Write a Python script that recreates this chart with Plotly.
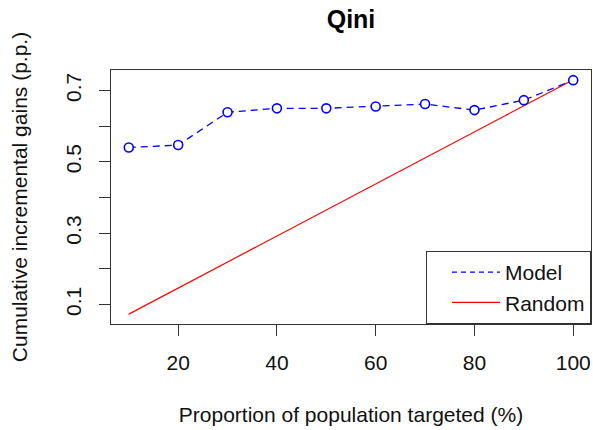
import plotly.graph_objects as go

proportion = [10, 20, 30, 40, 50, 60, 70, 80, 90, 100]
model_gain = [0.540, 0.547, 0.639, 0.650, 0.650, 0.655, 0.662, 0.645, 0.673, 0.729]
random_gain = [0.073, 0.146, 0.219, 0.292, 0.365, 0.438, 0.511, 0.584, 0.657, 0.730]
x_ticks = [20, 40, 60, 80, 100]
y_ticks = [0.1, 0.2, 0.3, 0.4, 0.5, 0.6, 0.7]
y_tick_text = ["0.1", "", "0.3", "", "0.5", "", "0.7"]

BLUE = "#0000ff"
RED = "#ff0000"
FONT = "Liberation Sans, Arial, sans-serif"
TXT = "#111111"

fig = go.Figure()
fig.add_trace(go.Scatter(
    x=proportion, y=random_gain, mode="lines",
    line=dict(color=RED, width=1.2), showlegend=False, hoverinfo="skip"))
fig.add_trace(go.Scatter(
    x=proportion, y=model_gain, mode="lines+markers",
    line=dict(color=BLUE, width=1.3, dash="7px,5px"),
    marker=dict(symbol="circle", size=9, color="white",
                line=dict(color=BLUE, width=1.6)),
    showlegend=False))
# legend entries
fig.add_trace(go.Scatter(x=[None], y=[None], mode="lines", name="Model",
                         line=dict(color=BLUE, width=1.3, dash="5px,4px")))
fig.add_trace(go.Scatter(x=[None], y=[None], mode="lines", name="Random",
                         line=dict(color=RED, width=1.2)))

axis_common = dict(
    showline=True, linecolor="#333333", linewidth=1, mirror=True,
    ticks="outside", ticklen=11, tickcolor="#333333", tickwidth=1,
    showgrid=False, zeroline=False,
    tickfont=dict(family=FONT, size=21, color=TXT),
)

fig.update_layout(
    width=593, height=430,
    margin=dict(l=111, r=2, t=70, b=106),
    paper_bgcolor="white", plot_bgcolor="white",
    title=dict(text="<b>Qini</b>", x=(111 + 591) / 2 / 593, xanchor="center",
               y=1 - 19 / 430, yanchor="middle",
               font=dict(family=FONT, size=25, color="black")),
    xaxis=dict(range=[6.4, 103.6], tickvals=x_ticks, ticklabelstandoff=9,
               title=dict(text="Proportion of population targeted (%)", standoff=34,
                          font=dict(family=FONT, size=21, color=TXT)),
               **axis_common),
    yaxis=dict(range=[0.0453, 0.7575], tickvals=y_ticks, ticktext=y_tick_text,
               tickangle=-90, ticklabelstandoff=10,
               title=dict(text="Cumulative incremental gains (p.p.)", standoff=28,
                          font=dict(family=FONT, size=21, color=TXT)),
               **axis_common),
    legend=dict(x=1, y=0, xanchor="right", yanchor="bottom",
                bordercolor="#333333", borderwidth=1, bgcolor="white",
                font=dict(family=FONT, size=21, color=TXT),
                itemwidth=48, indentation=20, tracegroupgap=0),
)

fig.write_html("out.html")
